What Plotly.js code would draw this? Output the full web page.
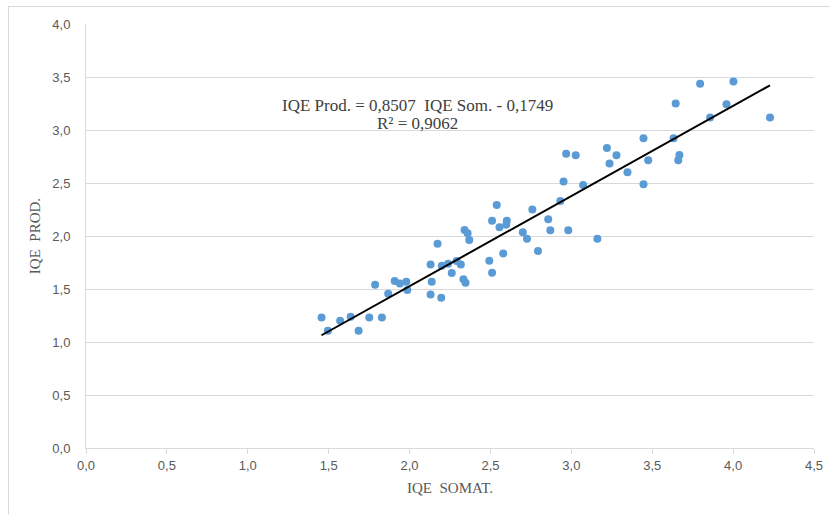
<!DOCTYPE html>
<html>
<head>
<meta charset="utf-8">
<script src="https://cdn.plot.ly/plotly-3.0.1.min.js"></script>
<style>
  html, body { margin: 0; padding: 0; background: #ffffff; }
  #frame { position: absolute; left: 8px; top: 6px; width: 840px; height: 530px; border: 1px solid #d9d9d9; box-sizing: border-box; }
  #chart { position: absolute; left: 0; top: 0; width: 830px; height: 514px; }
</style>
</head>
<body>
<div id="frame"></div>
<div id="chart"></div>
<script>
// IQE SOMAT. (x) and IQE PROD. (y) values
const iqeSomat = [1.456, 1.495, 1.571, 1.636, 1.685, 1.751, 1.829, 1.787, 1.868, 1.908,
  1.940, 1.980, 1.986, 2.130, 2.137, 2.130, 2.173, 2.196, 2.199, 2.238,
  2.261, 2.291, 2.317, 2.333, 2.346, 2.340, 2.359, 2.369, 2.493, 2.510,
  2.510, 2.539, 2.556, 2.579, 2.601, 2.598, 2.700, 2.726, 2.759, 2.794,
  2.857, 2.870, 2.932, 2.952, 2.968, 2.981, 3.027, 3.073, 3.161, 3.220,
  3.236, 3.279, 3.347, 3.446, 3.446, 3.475, 3.632, 3.645, 3.661, 3.668,
  3.796, 3.858, 3.959, 4.002, 4.228];
const iqeProd = [1.231, 1.105, 1.200, 1.238, 1.105, 1.231, 1.231, 1.540, 1.455, 1.575,
  1.553, 1.568, 1.490, 1.449, 1.568, 1.732, 1.928, 1.417, 1.720, 1.739,
  1.650, 1.764, 1.732, 1.591, 1.559, 2.057, 2.025, 1.962, 1.767, 1.654,
  2.145, 2.293, 2.082, 1.836, 2.145, 2.107, 2.035, 1.975, 2.249, 1.858,
  2.157, 2.054, 2.331, 2.513, 2.775, 2.054, 2.762, 2.482, 1.975, 2.831,
  2.683, 2.762, 2.602, 2.923, 2.488, 2.715, 2.923, 3.250, 2.715, 2.765,
  3.436, 3.118, 3.244, 3.458, 3.118];

// Linear trend line coefficients (from the chart's equation)
const slope = 0.8507;
const intercept = -0.1749;
const rSquared = 0.9062;

const xTickVals = [0, 0.5, 1, 1.5, 2, 2.5, 3, 3.5, 4, 4.5];
const xTickText = ["0,0", "0,5", "1,0", "1,5", "2,0", "2,5", "3,0", "3,5", "4,0", "4,5"];
const yTickVals = [0, 0.5, 1, 1.5, 2, 2.5, 3, 3.5, 4];
const yTickText = ["0,0", "0,5", "1,0", "1,5", "2,0", "2,5", "3,0", "3,5", "4,0"];

const xMin = Math.min(...iqeSomat);
const xMax = Math.max(...iqeSomat);
const trendX = [xMin, xMax];
const trendY = trendX.map(v => slope * v + intercept);

const fmt = (v) => v.toFixed(4).replace('.', ',');
const eqLine1 = 'IQE Prod. = ' + fmt(slope) + '  IQE Som. - ' + fmt(Math.abs(intercept));
const eqLine2 = 'R² = ' + fmt(rSquared);

const tickFont = { family: 'Liberation Sans, Arial, sans-serif', size: 13, color: '#595959' };
const serif = 'Liberation Serif, Times New Roman, serif';
const annFont = { family: serif, size: 17, color: '#404040' };

const data = [
  {
    x: iqeSomat, y: iqeProd, type: 'scatter', mode: 'markers',
    marker: { color: '#5b9bd5', size: 8 },
    hoverinfo: 'x+y', showlegend: false
  },
  {
    x: trendX, y: trendY, type: 'scatter', mode: 'lines',
    line: { color: '#000000', width: 2 },
    hoverinfo: 'skip', showlegend: false
  }
];

const layout = {
  width: 830, height: 514,
  margin: { l: 86, r: 16, t: 24, b: 66 },
  paper_bgcolor: 'rgba(0,0,0,0)',
  plot_bgcolor: 'rgba(0,0,0,0)',
  showlegend: false,
  xaxis: {
    range: [0, 4.5], tickvals: xTickVals, ticktext: xTickText,
    showgrid: false, zeroline: false,
    showline: true, linecolor: '#d9d9d9', linewidth: 1,
    ticks: 'outside', ticklen: 5, tickcolor: '#d9d9d9',
    tickfont: tickFont,
    title: { text: 'IQE  SOMAT.', font: { family: serif, size: 15, color: '#595959' }, standoff: 10 }
  },
  yaxis: {
    range: [0, 4], tickvals: yTickVals, ticktext: yTickText,
    showgrid: true, gridcolor: '#d9d9d9', gridwidth: 1, zeroline: false,
    showline: true, linecolor: '#d9d9d9', linewidth: 1,
    ticks: '', tickfont: tickFont, ticklabelstandoff: 12,
    title: { text: 'IQE  PROD.', font: { family: serif, size: 15, color: '#595959' }, standoff: 8 }
  },
  annotations: [
    {
      xref: 'paper', yref: 'paper',
      x: (417 - 86) / 728, y: (448 - 105) / 424,
      xanchor: 'center', yanchor: 'middle',
      text: eqLine1, showarrow: false, font: annFont
    },
    {
      xref: 'paper', yref: 'paper',
      x: (417 - 86) / 728, y: (448 - 123) / 424,
      xanchor: 'center', yanchor: 'middle',
      text: eqLine2, showarrow: false, font: annFont
    }
  ]
};

Plotly.newPlot('chart', data, layout, { displayModeBar: false, staticPlot: true });
</script>
</body>
</html>
